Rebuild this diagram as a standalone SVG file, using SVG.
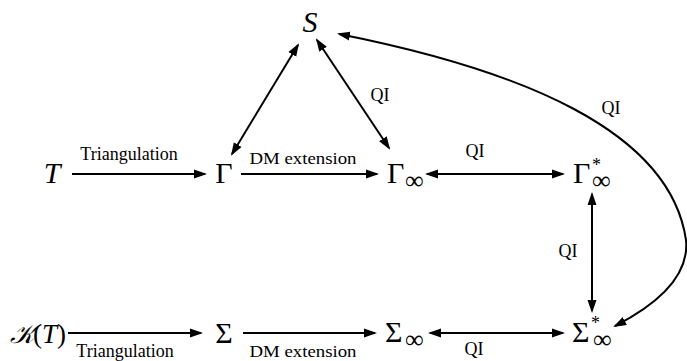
<svg xmlns="http://www.w3.org/2000/svg" width="687" height="361" viewBox="0 0 687 361">
<style>
.m{font-family:"Liberation Serif","DejaVu Serif",serif;font-size:30px;fill:#000}
.i{font-style:italic}
.sub{font-size:26px}
.sup{font-size:18px}
.lb{font-family:"Liberation Serif","DejaVu Serif",serif;font-size:18px;fill:#000}
.lb2{font-family:"Liberation Serif","DejaVu Serif",serif;font-size:16px;fill:#000}
.c{fill:none;stroke:#000;stroke-width:2}
</style>
<defs>
<marker id="ah" markerUnits="userSpaceOnUse" markerWidth="14" markerHeight="10" refX="11" refY="5" orient="auto-start-reverse">
<path d="M0,0.5 L13,5 L0,9.5 z" fill="#000"/>
</marker>
</defs>
<g id="connectors">
<path class="c" d="M72,174 L205,174" marker-end="url(#ah)"/>
<path class="c" d="M241,174 L377,174" marker-end="url(#ah)"/>
<path class="c" d="M427,174 L563,174" marker-start="url(#ah)" marker-end="url(#ah)"/>
<path class="c" d="M68,333 L201,333" marker-end="url(#ah)"/>
<path class="c" d="M243,333 L375,333" marker-end="url(#ah)"/>
<path class="c" d="M430,333 L563,333" marker-start="url(#ah)" marker-end="url(#ah)"/>
<path class="c" d="M592,194 L592,311" marker-start="url(#ah)" marker-end="url(#ah)"/>
<path class="c" d="M298,45 L232,154" marker-start="url(#ah)" marker-end="url(#ah)"/>
<path class="c" d="M317,40 L389,148" marker-start="url(#ah)" marker-end="url(#ah)"/>
<path class="c" d="M339,34 C520,70 670,130 686,240 C690,280 650,308 615,326" marker-start="url(#ah)" marker-end="url(#ah)"/>
<text class="lb" x="129" y="160" text-anchor="middle">Triangulation</text>
<text class="lb2" x="303" y="164" text-anchor="middle" textLength="107" lengthAdjust="spacingAndGlyphs">DM extension</text>
<text class="lb" x="475" y="157" text-anchor="middle">QI</text>
<text class="lb" x="380" y="101" text-anchor="middle">QI</text>
<text class="lb" x="611" y="114" text-anchor="middle">QI</text>
<text class="lb" x="568" y="257" text-anchor="middle">QI</text>
<text class="lb" x="125" y="357" text-anchor="middle">Triangulation</text>
<text class="lb2" x="303" y="357" text-anchor="middle" textLength="107" lengthAdjust="spacingAndGlyphs">DM extension</text>
<text class="lb" x="474" y="355" text-anchor="middle">QI</text>
</g>
<g id="S"><text class="m i" x="310" y="32" text-anchor="middle">S</text></g>
<g id="T"><text class="m i" x="52" y="183" text-anchor="middle">T</text></g>
<g id="Gamma"><text class="m" x="224" y="183" text-anchor="middle">Γ</text></g>
<g id="GammaInf"><text class="m" x="387" y="183">Γ<tspan class="sub" x="405" y="189">∞</tspan></text></g>
<g id="GammaInfStar"><text class="m" x="573" y="183">Γ<tspan class="sup" x="592" y="171">*</tspan><tspan class="sub" x="592" y="189">∞</tspan></text></g>
<g id="KT"><text class="m" x="10" y="343"><tspan class="i" font-size="26">𝒦</tspan><tspan x="33" font-size="27">(<tspan class="i">T</tspan>)</tspan></text></g>
<g id="Sigma"><text class="m" x="224" y="343" text-anchor="middle">Σ</text></g>
<g id="SigmaInf"><text class="m" x="385" y="342">Σ<tspan class="sub" x="405" y="348">∞</tspan></text></g>
<g id="SigmaInfStar"><text class="m" x="572" y="342">Σ<tspan class="sup" x="591" y="329">*</tspan><tspan class="sub" x="593" y="348">∞</tspan></text></g>
</svg>
